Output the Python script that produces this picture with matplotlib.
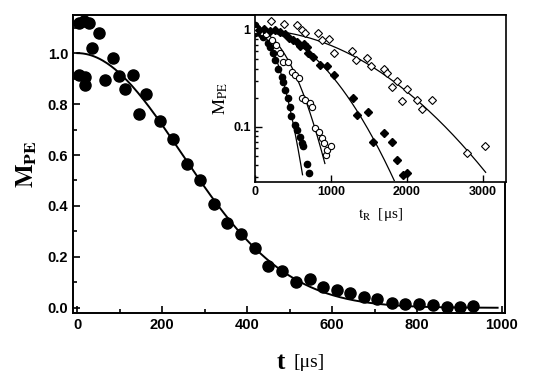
import numpy as np
import matplotlib.pyplot as plt
from matplotlib.ticker import MultipleLocator, FixedLocator, NullFormatter

plt.rcParams['mathtext.fontset'] = 'stix'

# Main panel: M_PE vs t
t_main = [5, 16, 28, 35, 52, 5, 19, 19, 66, 85, 99, 113, 131, 146, 162, 195, 225, 259, 289,
          322, 353, 386, 419, 450, 483, 515, 548, 579, 612, 642, 675, 706, 741, 772, 805,
          838, 871, 901, 932]
m_main = [1.12, 1.125, 1.12, 1.02, 1.08, 0.915, 0.906, 0.875, 0.894, 0.98, 0.91, 0.86, 0.914,
          0.76, 0.84, 0.733, 0.663, 0.565, 0.502, 0.408, 0.333, 0.29, 0.235, 0.165, 0.145,
          0.10, 0.114, 0.082, 0.07, 0.058, 0.043, 0.036, 0.02, 0.016, 0.016, 0.012, 0.005,
          0.003, 0.008]
tau_main = 347.0  # Gaussian fit time constant (µs)
t_fit_end = 990

# Inset: four data sets, M_PE vs t_R (log scale)
tA = [0, 5, 30, 60, 80, 110, 175, 197, 241, 263, 307, 351, 373, 395, 439, 461, 482, 526, 548,
      592, 614, 636, 680, 711]
mA = [1.12, 0.93, 1.05, 0.98, 0.9, 0.85, 0.73, 0.67, 0.575, 0.49, 0.40, 0.33, 0.29, 0.24,
      0.198, 0.162, 0.128, 0.105, 0.093, 0.079, 0.068, 0.063, 0.041, 0.033]
tB = [20, 90, 150, 220, 280, 329, 373, 434, 487, 530, 575, 618, 662, 728, 750, 794, 838, 882,
      904, 930, 952, 996]
mB = [1.0, 0.95, 0.9, 0.78, 0.7, 0.575, 0.47, 0.47, 0.37, 0.34, 0.32, 0.198, 0.19, 0.175,
      0.16, 0.097, 0.089, 0.076, 0.068, 0.051, 0.058, 0.064]
tC = [50, 120, 200, 260, 330, 400, 450, 500, 550, 600, 640, 680, 702, 768, 855, 952, 1044,
      1294, 1338, 1482, 1548, 1697, 1798, 1864, 1943, 1996]
mC = [1.0, 1.02, 0.98, 1.0, 0.95, 0.9, 0.82, 0.78, 0.75, 0.68, 0.72, 0.67, 0.575, 0.53, 0.44,
      0.42, 0.34, 0.2, 0.133, 0.144, 0.07, 0.086, 0.069, 0.046, 0.032, 0.033]
tD = [219, 386, 548, 614, 658, 833, 877, 974, 1044, 1281, 1325, 1469, 1526, 1702, 1732, 1798,
      1873, 1938, 1996, 2127, 2193, 2325, 2794, 3026]
mD = [1.25, 1.15, 1.13, 1.0, 0.92, 0.94, 0.79, 0.80, 0.58, 0.61, 0.49, 0.51, 0.42, 0.40, 0.36,
      0.256, 0.30, 0.185, 0.245, 0.19, 0.152, 0.19, 0.054, 0.064]
tau_inset = [338, 517, 969, 1650]
t_end_inset = [627, 921, 1833, 3035]

fig = plt.figure(figsize=(5.54, 3.83), dpi=100)
ax = fig.add_axes([0.132, 0.183, 0.780, 0.778])

tt = np.linspace(0, t_fit_end, 300)
ax.plot(tt, np.exp(-(tt / tau_main) ** 2), color='black', lw=1.4, zorder=2)
ax.plot(t_main, m_main, 'o', color='black', ms=8, zorder=3)

ax.set_xlim(-10, 1008)
ax.set_ylim(-0.02, 1.15)
ax.xaxis.set_major_locator(MultipleLocator(200))
ax.xaxis.set_minor_locator(MultipleLocator(100))
ax.yaxis.set_major_locator(MultipleLocator(0.2))
ax.yaxis.set_minor_locator(MultipleLocator(0.1))
ax.tick_params(which='both', direction='in', width=1.2)
ax.tick_params(which='major', length=5)
ax.tick_params(which='minor', length=3)
for lab in ax.get_xticklabels() + ax.get_yticklabels():
    lab.set_fontweight('bold')
    lab.set_fontsize(10.5)
    lab.set_fontfamily('Liberation Sans')
for s in ax.spines.values():
    s.set_linewidth(1.4)

ax.set_ylabel(r'$\mathbf{M}_{\mathbf{PE}}$', fontsize=18, labelpad=6)
ax.text(0.47, -0.165, 't', transform=ax.transAxes, fontsize=18, fontweight='bold',
        family='Liberation Serif', ha='left', va='center')
ax.text(0.51, -0.165, '[\u03bcs]', transform=ax.transAxes, fontsize=14,
        family='Liberation Serif', ha='left', va='center')

# Inset
ins = fig.add_axes([0.460, 0.525, 0.453, 0.436])
ins.set_yscale('log')
styles = [
    (tA, mA, dict(marker='o', mfc='black', mec='black', ms=4.5)),
    (tB, mB, dict(marker='o', mfc='white', mec='black', ms=4.5, mew=0.8)),
    (tC, mC, dict(marker='D', mfc='black', mec='black', ms=4.2)),
    (tD, mD, dict(marker='D', mfc='white', mec='black', ms=4.2, mew=0.8)),
]
for (tx, my, st), tau, tend in zip(styles, tau_inset, t_end_inset):
    tl = np.linspace(0, tend, 200)
    ins.plot(tl, np.exp(-(tl / tau) ** 2), color='black', lw=0.9, zorder=2)
    ins.plot(tx, my, ls='none', zorder=3, **st)

ins.set_xlim(0, 3300)
ins.set_ylim(0.027, 1.43)
ins.xaxis.set_major_locator(FixedLocator([0, 1000, 2000, 3000]))
ins.yaxis.set_major_locator(FixedLocator([0.1, 1]))
ins.yaxis.set_major_formatter(plt.FuncFormatter(lambda v, p: '1' if v >= 1 else '0.1'))
ins.yaxis.set_minor_formatter(NullFormatter())
ins.tick_params(which='both', direction='in', width=1.0, labelsize=9, pad=3)
ins.tick_params(which='major', length=5)
ins.tick_params(which='minor', length=2.5)
for lab in ins.get_xticklabels() + ins.get_yticklabels():
    lab.set_fontweight('bold')
    lab.set_fontfamily('Liberation Sans')
for s in ins.spines.values():
    s.set_linewidth(1.2)
ins.set_ylabel(r'$\mathrm{M}_{\mathrm{PE}}$', fontsize=13, labelpad=2)
ins.set_xlabel('$\\mathrm{t}_{\\mathrm{R}}$  [\u03bcs]', fontsize=11, family='Liberation Serif',
               labelpad=6)

fig.savefig('out.png', dpi=100)
